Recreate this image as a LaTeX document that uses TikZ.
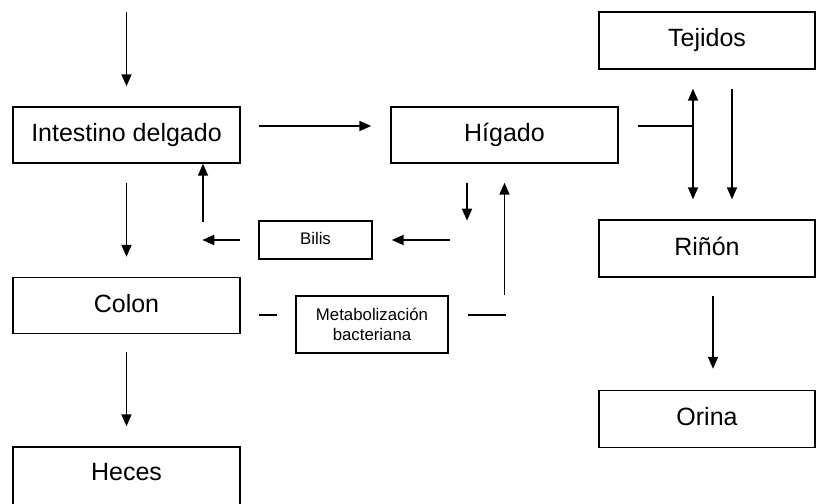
\documentclass[tikz,border=0pt]{standalone}
\usepackage{fontspec}
\setmainfont{Liberation Sans}
\usetikzlibrary{arrows.meta}
\begin{document}
\begin{tikzpicture}[x=1pt,y=-1pt,
  bigbox/.style={draw,line width=1.4pt,minimum width=227pt,minimum height=56pt,inner sep=0pt,
    font=\fontsize{25}{30}\selectfont,text height=18pt,text depth=5pt},
  rbox/.style={bigbox,minimum width=216pt,minimum height=57pt},
  smallbox/.style={draw,line width=1.4pt,inner sep=0pt,font=\fontsize{16.8}{20}\selectfont,align=center},
  arr/.style={line width=1.7pt,-{Triangle[length=12pt,width=10pt]}},
  ln/.style={line width=1.7pt}]
\useasboundingbox (0,0) rectangle (816,503);
\node[bigbox] (intestino) at (126.5,135) {Intestino delgado};
\node[bigbox] (higado) at (504.5,135) {Hígado};
\node[bigbox] (colon) at (126.5,305.5) {Colon};
\node[bigbox,minimum height=60pt,text depth=12pt] (heces) at (126.5,477) {Heces};
\node[rbox] (tejidos) at (707,40.5) {Tejidos};
\node[rbox] (rinon) at (707,248.5) {Riñón};
\node[rbox] (orina) at (707,419) {Orina};
\node[smallbox,minimum width=113pt,minimum height=38pt,text height=12pt,text depth=3pt] (bilis) at (315.5,240) {Bilis};
\node[smallbox,minimum width=152pt,minimum height=57pt] (metab) at (372,324.5) {Metabolización\\bacteriana};
\coordinate (start) at (126.5,12);
\coordinate (hl) at ([yshift=9pt]higado.east);
\coordinate (tl) at ([xshift=-14pt]tejidos.south);
% left column
\draw[arr] (start) -- ([yshift=20pt]intestino.north);
\draw[arr] ([yshift=-19pt]intestino.south) -- ([yshift=20pt]colon.north);
\draw[arr] ([yshift=-18pt]colon.south) -- ([yshift=20pt]heces.north);
\draw[arr] ([xshift=76.5pt,yshift=-58pt]intestino.south) -- ([xshift=76.5pt]intestino.south);
% intestino to higado
\draw[arr] ([xshift=18pt,yshift=9pt]intestino.east) -- ([xshift=-19pt,yshift=9pt]higado.west);
% bilis
\draw[arr] ([xshift=-18pt]bilis.west) -- ([xshift=-56pt]bilis.west);
\draw[arr] ([xshift=77pt]bilis.east) -- ([xshift=19pt]bilis.east);
\draw[arr] ([xshift=-37.5pt,yshift=-19pt]higado.south) -- ([xshift=-37.5pt,yshift=-57pt]higado.south);
% metabolizacion
\draw[ln] ([xshift=-18pt,yshift=9.5pt]metab.west) -- ([xshift=-36pt,yshift=9.5pt]metab.west);
\draw[ln] ([xshift=19pt,yshift=9.5pt]metab.east) -- ([xshift=57pt,yshift=9.5pt]metab.east);
\draw[arr] (higado.south |- metab.north) -- ([yshift=-19pt]higado.south);
% right side
\draw[ln] ([xshift=19pt]hl) -- (tl |- hl);
\draw[line width=1.7pt,{Triangle[length=12pt,width=10pt]}-{Triangle[length=12pt,width=10pt]}] ([xshift=-14pt,yshift=-19pt]tejidos.south) -- ([xshift=-14pt,yshift=20pt]rinon.north);
\draw[arr] ([xshift=25pt,yshift=-19pt]tejidos.south) -- ([xshift=25pt,yshift=20pt]rinon.north);
\draw[arr] ([xshift=6pt,yshift=-18pt]rinon.south) -- ([xshift=6pt,yshift=21pt]orina.north);
\end{tikzpicture}
\end{document}
